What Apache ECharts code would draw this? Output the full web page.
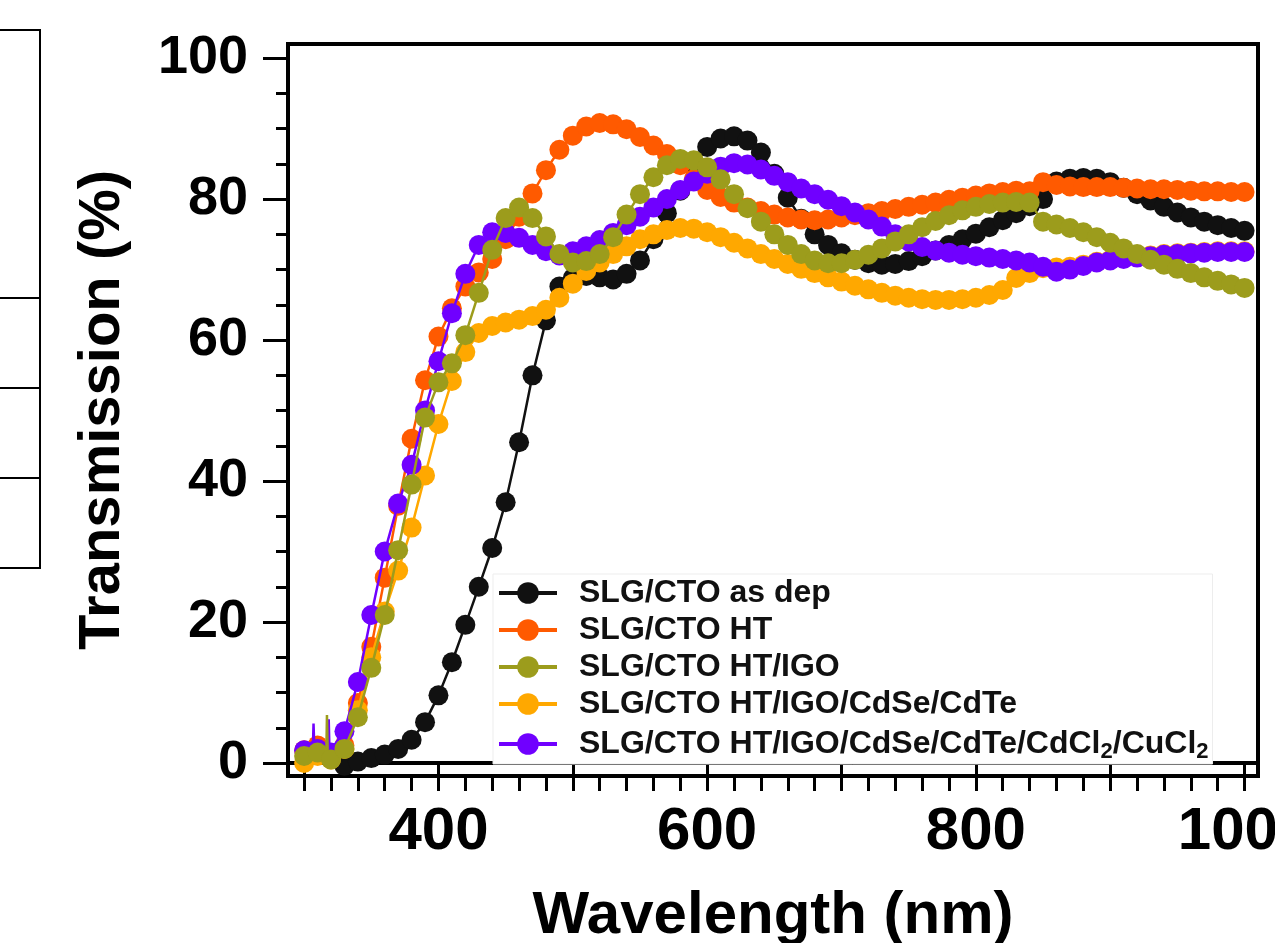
<!DOCTYPE html>
<html><head><meta charset="utf-8">
<script src="https://cdn.jsdelivr.net/npm/echarts@6/dist/echarts.min.js"></script>
<style>html,body{margin:0;padding:0;background:#fff}#c{width:1275px;height:943px}</style>
</head><body><div id="c"></div>
<script>
// ---------- data ----------
const wavelengths = [300,310,320,330,340,350,360,370,380,390,400,410,420,430,440,450,460,470,480,490,
  500,510,520,530,540,550,560,570,580,590,600,610,620,630,640,650,660,670,680,690,
  700,710,720,730,740,750,760,770,780,790,800,810,820,830,840,850,860,870,880,890,
  900,910,920,930,940,950,960,970,980,990,1000];

const seriesNames = ['SLG/CTO as dep','SLG/CTO HT','SLG/CTO HT/IGO','SLG/CTO HT/IGO/CdSe/CdTe','SLG/CTO HT/IGO/CdSe/CdTe/CdCl2/CuCl2'];

const asDep = [null,null,null,-0.4,0.2,0.7,1.2,2.0,3.3,5.8,9.6,14.3,19.6,25.0,30.5,37.0,45.5,55.0,62.8,67.6,
  68.8,69.1,68.9,68.6,69.4,71.3,74.3,78.0,81.2,84.6,87.4,88.6,88.9,88.3,86.6,83.6,80.2,77.2,75.0,73.5,
  72.3,71.4,70.9,70.7,70.8,71.2,71.9,72.7,73.5,74.3,75.1,76.0,77.0,78.0,79.0,80.0,82.5,82.9,83.0,82.9,
  82.4,81.6,80.7,79.8,78.9,78.1,77.4,76.8,76.3,75.9,75.5];

const ht = [1.8,2.5,1.2,2.5,8.5,16.5,26.3,36.5,46.0,54.3,60.5,64.5,67.6,69.6,71.5,74.3,77.5,80.8,84.1,87.0,
  89.0,90.3,90.8,90.6,89.9,88.8,87.6,86.4,84.8,82.8,81.3,80.3,79.5,78.8,78.3,77.8,77.4,77.1,77.0,77.1,
  77.4,77.7,78.0,78.3,78.6,78.9,79.2,79.5,79.9,80.2,80.5,80.8,81.0,81.2,81.1,82.4,82.0,81.8,81.7,81.7,
  81.7,81.6,81.5,81.4,81.4,81.3,81.2,81.1,81.1,81.0,81.0];

const htIgo = [1.0,1.5,0.5,2.0,6.5,13.5,21.0,30.2,39.5,49.0,54.0,56.7,60.7,66.7,72.8,77.3,78.8,77.3,74.7,72.2,
  71.0,71.2,72.2,74.6,77.8,80.7,83.1,84.8,85.7,85.5,84.5,82.8,80.7,78.7,76.8,75.0,73.5,72.2,71.3,70.9,
  70.9,71.4,72.1,73.0,74.0,75.0,76.0,76.9,77.7,78.4,78.9,79.3,79.5,79.6,79.5,76.8,76.4,75.9,75.3,74.6,
  73.8,73.0,72.2,71.4,70.7,70.1,69.5,68.9,68.4,67.9,67.4];

const htIgoCdTe = [0.0,1.0,0.5,2.0,7.5,15.0,21.5,27.3,33.4,40.8,48.1,54.2,58.3,61.0,62.0,62.5,62.9,63.4,64.3,66.0,
  68.0,69.8,71.0,72.2,73.3,74.3,75.0,75.6,75.9,75.8,75.3,74.6,73.8,73.0,72.2,71.5,70.8,70.1,69.5,68.9,
  68.3,67.7,67.2,66.7,66.3,66.0,65.8,65.7,65.7,65.8,66.0,66.4,67.1,68.8,69.5,70.2,70.3,70.4,70.7,71.1,
  71.4,71.6,71.8,72.0,72.2,72.3,72.4,72.5,72.6,72.6,72.6];

const htIgoCdTeCl = [1.8,2.0,1.5,4.5,11.5,21.0,30.0,36.8,42.3,50.0,57.0,63.8,69.4,73.5,75.3,75.2,74.5,73.5,72.6,72.0,
  72.6,73.3,74.2,75.2,76.3,77.5,78.8,80.0,81.3,82.5,83.6,84.6,85.1,84.9,84.2,83.3,82.4,81.5,80.7,79.9,
  79.0,78.1,77.1,76.1,75.0,74.0,73.2,72.7,72.4,72.1,71.9,71.7,71.5,71.3,71.0,70.4,69.7,70.0,70.5,71.0,
  71.3,71.5,71.7,71.9,72.1,72.2,72.3,72.4,72.5,72.5,72.5];

// noisy UV spikes (drawn without markers): [wavelength, value]
const olivesSpikes = [[316.5,1.0],[317,6.8],[317.6,1.0]];
const purpleSpikes = [[306.5,1.9],[307,5.6],[307.6,2.0],[317.8,1.6],[318.3,6.2],[318.9,1.6]];

const xMajorTicks = [300,400,500,600,700,800,900,1000];
const xTickLabels = [400,600,800,1000];
const yTickLabels = [0,20,40,60,80,100];
const yMinorTicks = [5,10,15,25,30,35,45,50,55,65,70,75,85,90,95];

// ---------- chart ----------
const FONT = '"Liberation Sans", Arial, Helvetica, sans-serif';
const colors = ['#111111','#FF5A00','#9C9C1C','#FFA800','#7000FF'];
const zOrder = [2,3,7,4,5];
const values = [asDep, ht, htIgo, htIgoCdTe, htIgoCdTeCl];
const spikes = [[], [], olivesSpikes, [], purpleSpikes];

function buildData(vals, sp) {
  const pts = [];
  wavelengths.forEach((w, i) => { if (vals[i] !== null) pts.push({ value: [w, vals[i]] }); });
  sp.forEach(p => pts.push({ value: p, symbol: 'none' }));
  pts.sort((a, b) => a.value[0] - b.value[0]);
  return pts;
}

// main plot frame geometry
const G = { left: 288, right: 17, top: 44, bottom: 167 };
const X_MIN = 288, X_MAX = 1010;
const plotW = 1275 - G.left - G.right;
const pxPerNm = plotW / (X_MAX - X_MIN);

const chart = echarts.init(document.getElementById('c'), null, { renderer: 'canvas' });
const option = {
  animation: false,
  backgroundColor: '#ffffff',
  textStyle: { fontFamily: FONT },
  grid: [
    { left: G.left, right: G.right, top: G.top, bottom: G.bottom, outerBoundsMode: 'none', containLabel: false,
      show: true, borderColor: '#000', borderWidth: 4, backgroundColor: 'transparent' },
    // helper grid spanning exactly 300..1000 nm, used only for the 20-nm minor ticks
    { left: G.left + (300 - X_MIN) * pxPerNm, right: G.right + (X_MAX - 1000) * pxPerNm, top: G.top, bottom: G.bottom,
      outerBoundsMode: 'none', containLabel: false, show: false }
  ],
  xAxis: [{
    gridIndex: 0, type: 'value', min: X_MIN, max: X_MAX, position: 'bottom',
    axisLine: { show: true, lineStyle: { color: '#000', width: 4 } },
    axisTick: { show: true, interval: 0, customValues: xMajorTicks, length: 26, lineStyle: { color: '#000', width: 3 } },
    axisLabel: { customValues: xTickLabels, formatter: v => String(v), fontSize: 60, fontWeight: 'bold', color: '#000', fontFamily: FONT, margin: 26 },
    splitLine: { show: false },
    name: 'Wavelength (nm)', nameLocation: 'middle', nameGap: 110,
    nameTextStyle: { fontSize: 60, fontWeight: 'bold', color: '#000', fontFamily: FONT }
  }, {
    gridIndex: 1, type: 'value', min: 300, max: 1000, interval: 20, position: 'bottom',
    axisLine: { show: false },
    axisTick: { show: true, interval: 0, length: 15, lineStyle: { color: '#000', width: 3 } },
    axisLabel: { show: false },
    splitLine: { show: false }
  }],
  yAxis: [{
    gridIndex: 0, type: 'value', min: -1.84, max: 102, position: 'left',
    axisLine: { show: true, lineStyle: { color: '#000', width: 4 } },
    axisTick: { show: true, interval: 0, customValues: yTickLabels, length: 25, lineStyle: { color: '#000', width: 3 } },
    axisLabel: { customValues: yTickLabels, fontSize: 54, fontWeight: 'bold', color: '#000', fontFamily: FONT, margin: 40 },
    splitLine: { show: false },
    name: 'Transmission (%)', nameLocation: 'middle', nameGap: 156,
    nameTextStyle: { fontSize: 58, fontWeight: 'bold', color: '#000', fontFamily: FONT }
  }, {
    gridIndex: 0, type: 'value', min: -1.84, max: 102, position: 'left',
    axisLine: { show: false },
    axisTick: { show: true, interval: 0, customValues: yMinorTicks, length: 12, lineStyle: { color: '#000', width: 3 } },
    axisLabel: { show: true, customValues: yMinorTicks, formatter: () => '', fontSize: 10 },
    splitLine: { show: false }
  }, {
    gridIndex: 1, type: 'value', min: 0, max: 1, show: false
  }],
  legend: {
    data: seriesNames,
    orient: 'vertical', left: 493, top: 574,
    padding: [3, 4, 1, 4],
    itemWidth: 58, itemHeight: 27, itemGap: 5,
    backgroundColor: '#ffffff', borderColor: '#ededed', borderWidth: 1,
    z: 20,
    lineStyle: { width: 4 },
    formatter: n => n.replace(/Cl2/g, 'Cl{s|2}'),
    textStyle: {
      fontSize: 32, fontWeight: 'bold', fontFamily: FONT, color: '#111', lineHeight: 32, padding: [0, 0, 0, 17],
      rich: { s: { fontSize: 22, fontWeight: 'bold', fontFamily: FONT, color: '#111', lineHeight: 22, padding: [16, 0, 0, 0] } }
    }
  },
  graphic: [
    { type: 'rect', shape: { x: -5, y: 30, width: 45, height: 538 }, style: { fill: 'none', stroke: '#000', lineWidth: 2 } },
    { type: 'line', shape: { x1: 0, y1: 298, x2: 40, y2: 298 }, style: { stroke: '#000', lineWidth: 2 } },
    { type: 'line', shape: { x1: 0, y1: 388, x2: 40, y2: 388 }, style: { stroke: '#000', lineWidth: 2 } },
    { type: 'line', shape: { x1: 0, y1: 478, x2: 40, y2: 478 }, style: { stroke: '#000', lineWidth: 2 } }
  ],
  series: seriesNames.map((name, k) => ({
    name, type: 'line', xAxisIndex: 0, yAxisIndex: 0,
    z: zOrder[k],
    data: buildData(values[k], spikes[k]),
    symbol: 'circle', symbolSize: 20,
    lineStyle: { color: colors[k], width: 2.5 },
    itemStyle: { color: colors[k] },
    emphasis: { disabled: true }
  }))
};
chart.setOption(option);
</script></body></html>
